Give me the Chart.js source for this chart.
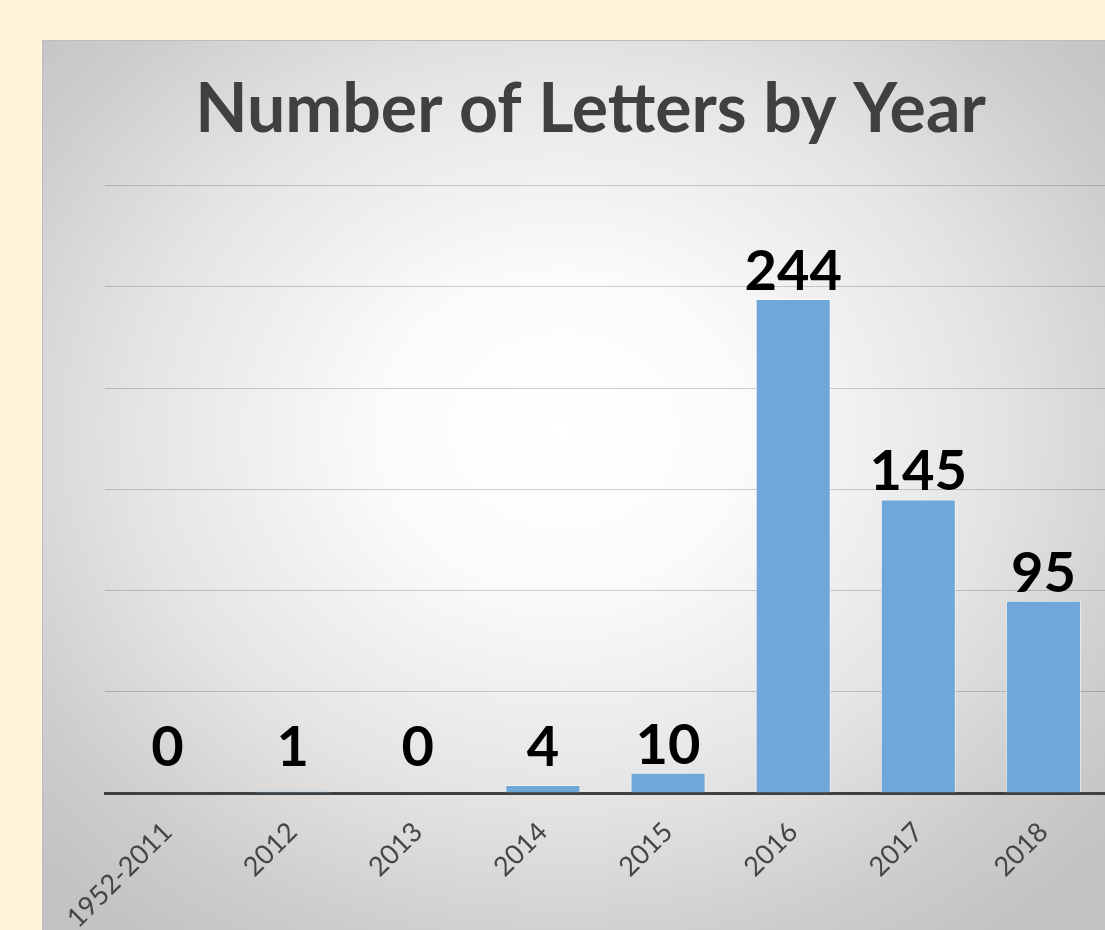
<!DOCTYPE html>
<html lang="en">
<head>
    <meta charset="UTF-8">
    <title>Number of Letters by Year</title>
    <script src="https://cdn.jsdelivr.net/npm/chart.js"></script>
    <style>
        html, body { margin: 0; padding: 0; width: 1105px; height: 930px; overflow: hidden; background: #fff5dc; }
        .panel {
            position: absolute; left: 42px; top: 40px; width: 1096px; height: 900px;
            border: 1px solid #bdbdbd; box-sizing: border-box;
            background: radial-gradient(ellipse 720px 620px at 520px 390px, #ffffff 0%, #fbfbfb 25%, #e4e4e4 60%, #cdcdcd 85%, #c3c3c3 100%);
        }
        .panel canvas { position: absolute; left: 0; top: 0; }
    </style>
</head>
<body>
    <div class="panel">
        <canvas id="lettersChart" width="1096" height="890"></canvas>
    </div>

    <script>
        const categories = ["1952-2011", "2012", "2013", "2014", "2015", "2016", "2017", "2018"];
        const letterCounts = [0, 1, 0, 4, 10, 244, 145, 95];
        const yMax = 300;
        const yStep = 50;

        // values written above each bar, like Excel's "outside end" labels
        const barValueLabels = {
            id: "barValueLabels",
            afterDatasetsDraw(chart) {
                const { ctx } = chart;
                const meta = chart.getDatasetMeta(0);
                const base = chart.scales.y.getPixelForValue(0);
                ctx.save();
                ctx.font = "bold 56px Lato";
                ctx.fillStyle = "#000000";
                ctx.textAlign = "center";
                ctx.textBaseline = "alphabetic";
                meta.data.forEach((bar, i) => {
                    const y = Math.min(bar.y - 9, base - 27);
                    ctx.fillText(String(letterCounts[i]), bar.x, y);
                });
                ctx.restore();
            }
        };

        new Chart(document.getElementById("lettersChart"), {
            type: "bar",
            data: {
                labels: categories,
                datasets: [{
                    label: "Letters",
                    data: letterCounts,
                    backgroundColor: "rgb(111, 167, 217)",
                    borderColor: "rgba(255, 255, 255, 0.55)",
                    borderWidth: 1,
                    barPercentage: 0.6,
                    categoryPercentage: 1.0
                }]
            },
            options: {
                responsive: false,
                animation: false,
                layout: { padding: { left: 32, right: 33, top: 28, bottom: 0 } },
                plugins: {
                    legend: { display: false },
                    tooltip: { enabled: false },
                    title: {
                        display: true,
                        text: "Number of Letters by Year",
                        color: "#404040",
                        font: { family: "Lato", size: 68, weight: "bold", lineHeight: 1.2 },
                        padding: { top: 0, bottom: 35 }
                    }
                },
                scales: {
                    x: {
                        grid: { display: false, drawTicks: false },
                        border: { display: true, color: "#404040", width: 3 },
                        ticks: {
                            color: "#454545",
                            font: { family: "Lato", size: 27 },
                            minRotation: 45,
                            maxRotation: 45,
                            padding: 23
                        },
                        afterFit(scale) { scale.height = 138; }
                    },
                    y: {
                        min: 0,
                        max: yMax,
                        ticks: { display: false, stepSize: yStep },
                        border: { display: false },
                        grid: { color: "rgba(0, 0, 0, 0.18)", lineWidth: 1, drawTicks: false },
                        afterFit(scale) { scale.width = 30; }
                    }
                }
            },
            plugins: [barValueLabels]
        });
    </script>
</body>
</html>
